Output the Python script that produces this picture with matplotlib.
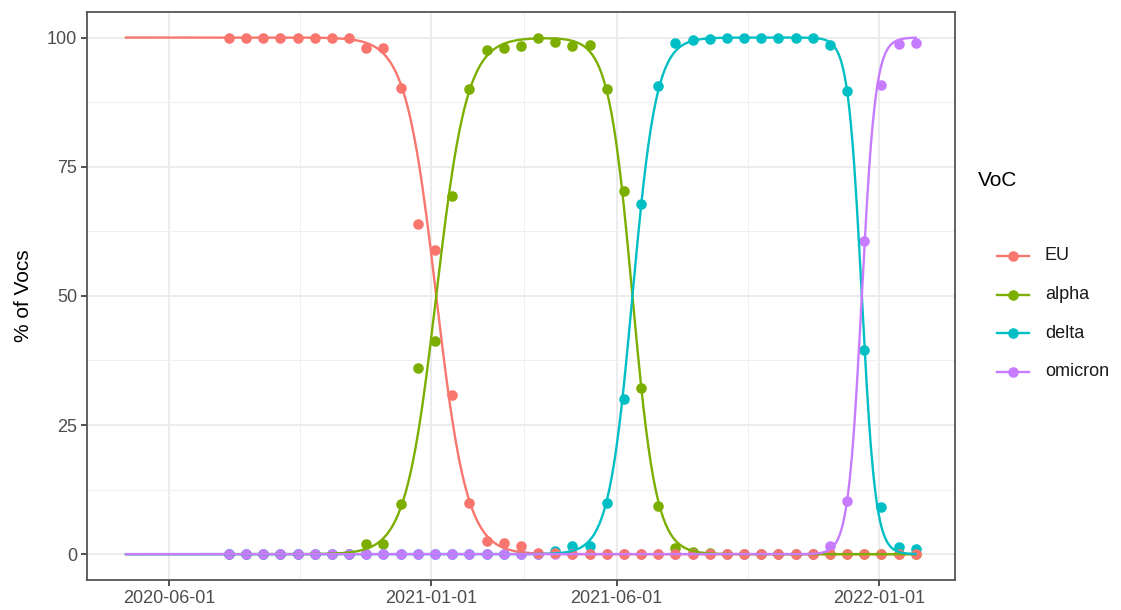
import numpy as np
import matplotlib
matplotlib.use("Agg")
import matplotlib.pyplot as plt
import matplotlib.dates as mdates
from matplotlib.lines import Line2D

plt.rcParams["font.family"] = ["Liberation Sans", "DejaVu Sans"]

# fortnightly sequencing windows
sample_dates = np.arange(np.datetime64("2020-07-20"), np.datetime64("2022-02-01"),
                         np.timedelta64(14, "D"))

variants = ["EU", "alpha", "delta", "omicron"]
colors = ["#F8766D", "#7CAE00", "#00BFC4", "#C77CFF"]

# observed share (%) per window
share_eu = [100, 100, 100, 100, 100, 100, 100, 100, 98.0, 98.0,
            90.2, 64.0, 58.8, 30.8, 9.9, 2.6, 2.1, 1.6, 0.2, 0.3,
            0, 0, 0, 0, 0, 0, 0, 0, 0, 0,
            0, 0, 0, 0, 0, 0, 0, 0, 0, 0, 0]
share_alpha = [0, 0, 0, 0, 0, 0, 0, 0, 2.0, 2.0,
               9.7, 36.0, 41.2, 69.3, 90.1, 97.6, 97.9, 98.4, 100, 99.1,
               98.3, 98.5, 90.0, 70.3, 32.2, 9.4, 1.1, 0.4, 0.2, 0,
               0, 0, 0, 0, 0, 0, 0, 0, 0, 0, 0]
share_delta = [0, 0, 0, 0, 0, 0, 0, 0, 0, 0,
               0, 0, 0, 0, 0, 0, 0, 0, 0, 0.6,
               1.6, 1.5, 9.9, 30.0, 67.7, 90.6, 99.0, 99.6, 99.7, 99.9,
               100, 100, 100, 100, 100, 98.6, 89.7, 39.5, 9.2, 1.3, 1.0]
share_omicron = [0, 0, 0, 0, 0, 0, 0, 0, 0, 0,
                 0, 0, 0, 0, 0, 0, 0, 0, 0, 0,
                 0, 0, 0, 0, 0, 0, 0, 0, 0, 0,
                 0, 0, 0, 0, 0, 1.5, 10.3, 60.7, 90.8, 98.7, 99.0]
shares = [share_eu, share_alpha, share_delta, share_omicron]

# multinomial logistic fit: midpoint and growth rate (per day) of each takeover
fit_start, fit_end = "2020-04-27", "2022-01-31"
takeover_mid = ["2021-01-05", "2021-06-14", "2021-12-18"]
takeover_rate = [0.080, 0.103, 0.180]


def fitted_shares(t):
    eta = [np.zeros_like(t)]
    for mid, rate in zip(takeover_mid, takeover_rate):
        eta.append(eta[-1] + rate * (t - mdates.datestr2num(mid)))
    eta = np.vstack(eta)
    eta -= eta.max(axis=0)
    p = np.exp(eta)
    return 100 * p / p.sum(axis=0)


t_fit = np.arange(mdates.datestr2num(fit_start), mdates.datestr2num(fit_end) + 1)
curves = fitted_shares(t_fit)

fig = plt.figure(figsize=(11.21, 6.10), dpi=100)
ax = fig.add_axes([86.7 / 1121, 1 - 580 / 610, (955 - 86.7) / 1121, (580 - 11.7) / 610])

x_pts = mdates.date2num(sample_dates.astype("datetime64[D]").astype(object))
# EU drawn last so it sits on top of the zero rows
for i in [1, 2, 3, 0]:
    ax.scatter(x_pts, shares[i], s=58, color=colors[i], linewidths=0, zorder=3)
for i in range(4):
    ax.plot(t_fit, curves[i], color=colors[i], lw=1.7, zorder=4)

ax.set_xlim(mdates.datestr2num("2020-03-26"), mdates.datestr2num("2022-03-04"))
ax.set_ylim(-5, 105)

major_dates = ["2020-06-01", "2021-01-01", "2021-06-01", "2022-01-01"]
major_x = [mdates.datestr2num(d) for d in major_dates]
ax.set_xticks(major_x)
ax.set_xticklabels(major_dates)
ax.set_xticks([(a + b) / 2 for a, b in zip(major_x[:-1], major_x[1:])], minor=True)
ax.set_yticks([0, 25, 50, 75, 100])
ax.set_yticks([12.5, 37.5, 62.5, 87.5], minor=True)

ax.grid(which="major", color="#EBEBEB", lw=1.3)
ax.grid(which="minor", color="#EFEFEF", lw=0.7)
ax.set_axisbelow(True)
ax.tick_params(which="major", length=4, width=1.3, color="#444444",
               labelcolor="#4D4D4D", labelsize=13, pad=3)
ax.tick_params(which="minor", length=0)
for sp in ax.spines.values():
    sp.set_color("#555555")
    sp.set_linewidth(1.3)

ax.set_ylabel("% of Vocs", fontsize=15, labelpad=10)

# legend
fig.text(978 / 1121, 1 - 181 / 610, "VoC", fontsize=15, va="center", ha="left")
for i, name in enumerate(variants):
    y = 1 - (256 + 38.5 * i) / 610
    fig.add_artist(Line2D([997 / 1121, 1029 / 1121], [y, y], color=colors[i], lw=1.7,
                          transform=fig.transFigure))
    fig.add_artist(Line2D([1013 / 1121], [y], color=colors[i], marker="o", ms=7.6,
                          mew=0, transform=fig.transFigure))
    fig.text(1045 / 1121, y, name, fontsize=13, va="center", ha="left", color="#1A1A1A")

fig.savefig("out.png", dpi=100)
